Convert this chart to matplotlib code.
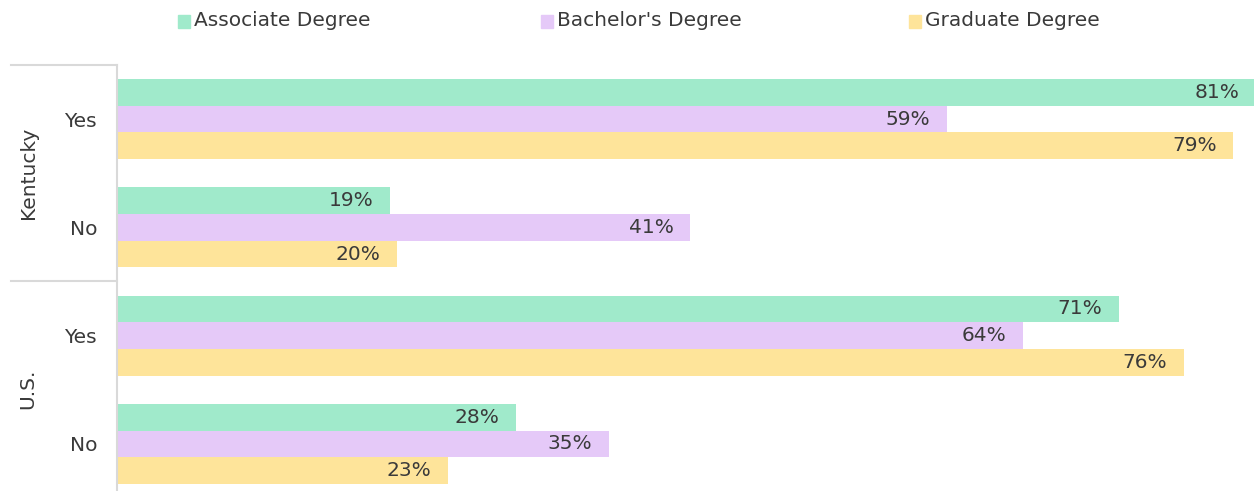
import matplotlib
matplotlib.use("Agg")
import matplotlib.pyplot as plt
from matplotlib.patches import Rectangle
from matplotlib.lines import Line2D

plt.rcParams['font.family'] = ['DejaVu Sans']

regions = ["Kentucky", "U.S."]
answers = ["Yes", "No"]
series = ["Associate Degree", "Bachelor's Degree", "Graduate Degree"]
associate = [80.7, 19.3, 71.0, 28.2]
bachelor = [58.8, 40.6, 64.2, 34.8]
graduate = [79.1, 19.8, 75.6, 23.4]
colors = ["#A0EACB", "#E5C9F8", "#FEE49A"]

W, H = 1254, 491
fig = plt.figure(figsize=(W / 100, H / 100), dpi=100)

def fx(px):
    return px / W

def fy(py):
    return 1 - py / H

FS = 14.5
TC = '#3A3A3A'
FW = 'normal'

ax_left, ax_top, ax_bot = 118, 65, 498
ax = fig.add_axes([fx(ax_left), fy(ax_bot), fx(W) - fx(ax_left), (ax_bot - ax_top) / H])
for s in ['top', 'right', 'bottom']:
    ax.spines[s].set_visible(False)
ax.spines['left'].set_color('#D9D9D9')
ax.spines['left'].set_linewidth(1.5)
ax.spines['left'].set_position(('outward', 1))

bh = 0.2465
values = [associate, bachelor, graduate]
ncat = len(associate)
for si, vals in enumerate(values):
    for ci, v in enumerate(vals):
        y = ci + (si - 1) * bh
        ax.barh(y, v, height=bh, color=colors[si], edgecolor='none')
        ax.annotate(f"{round(v)}%", xy=(v, y), xytext=(-12, 0), textcoords='offset points',
                    ha='right', va='center', fontsize=FS, color=TC, fontweight=FW,
                    annotation_clip=False)

ax.set_xlim(0, 80.57)
ax.set_ylim(ncat - 0.5, -0.5)
ax.set_yticks(range(ncat))
ax.set_yticklabels(answers * len(regions), fontsize=FS, color=TC, fontweight=FW)
ax.tick_params(axis='y', length=0, pad=14)
ax.set_xticks([])

# group labels and separators
for ln_y in [65, 281, 497]:
    fig.add_artist(Line2D([fx(11), fx(117)], [fy(ln_y), fy(ln_y)], color='#D9D9D9', lw=1.5))
for gi, name in enumerate(regions):
    cy = ax_top + (gi + 0.5) * 216
    fig.text(fx(28), fy(cy), name, rotation=90, ha='center', va='center',
             fontsize=FS, color=TC, fontweight=FW)

# legend
leg_x = [178, 541, 909]
leg_y = 21
for lx, name, c in zip(leg_x, series, colors):
    fig.add_artist(Rectangle((fx(lx), fy(leg_y + 7)), fx(12), 13 / H, color=c,
                             transform=fig.transFigure))
    fig.text(fx(lx + 16), fy(leg_y), name, ha='left', va='center',
             fontsize=FS, color=TC, fontweight=FW)

fig.savefig("out.png", dpi=100)
